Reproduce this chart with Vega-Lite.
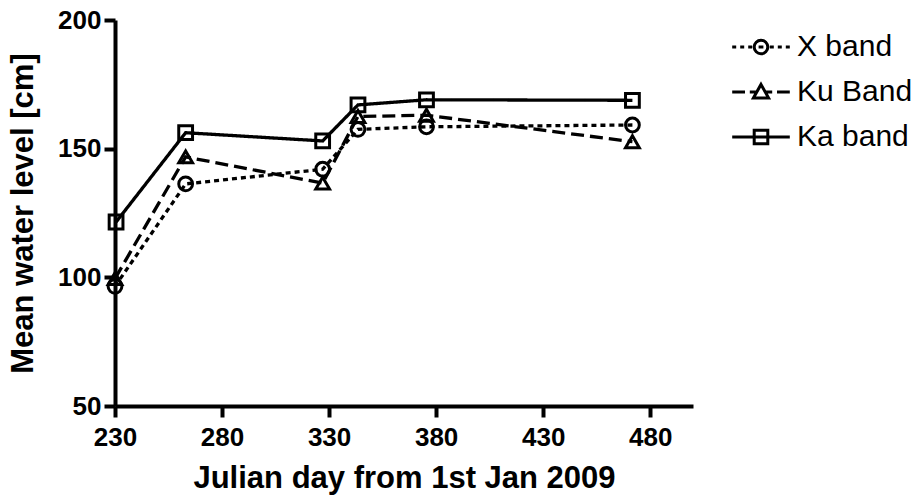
{
  "$schema": "https://vega.github.io/schema/vega-lite/v6.json",
  "autosize": "none",
  "width": 578,
  "height": 386,
  "padding": {"left": 115, "top": 20, "right": 226, "bottom": 90},
  "background": "white",
  "config": {
    "view": {"stroke": null},
    "font": "Liberation Sans",
    "axis": {"grid": false, "labelFlush": false, "labelOverlap": false, "domainColor": "black", "domainWidth": 4, "tickColor": "black", "tickWidth": 4, "tickSize": 11, "labelFont": "Liberation Sans", "labelFontSize": 26, "labelFontWeight": "bold", "labelColor": "black", "titleFont": "Liberation Sans", "titleFontSize": 31, "titleFontWeight": "bold", "titleColor": "black"}
  },
  "data": {"values": [
    {"day": 230, "level": 96.5, "series": "X band"},
    {"day": 263, "level": 136.3, "series": "X band"},
    {"day": 327, "level": 142, "series": "X band"},
    {"day": 343.5, "level": 157.5, "series": "X band"},
    {"day": 375.5, "level": 158.5, "series": "X band"},
    {"day": 471.7, "level": 159.2, "series": "X band"},
    {"day": 230, "level": 99.5, "series": "Ku Band"},
    {"day": 263, "level": 146.8, "series": "Ku Band"},
    {"day": 327, "level": 136.6, "series": "Ku Band"},
    {"day": 343.5, "level": 162.5, "series": "Ku Band"},
    {"day": 375.5, "level": 163, "series": "Ku Band"},
    {"day": 471.7, "level": 152.7, "series": "Ku Band"},
    {"day": 230.5, "level": 121.5, "series": "Ka band"},
    {"day": 263, "level": 156.2, "series": "Ka band"},
    {"day": 327, "level": 153, "series": "Ka band"},
    {"day": 343.5, "level": 167, "series": "Ka band"},
    {"day": 375.5, "level": 169, "series": "Ka band"},
    {"day": 471.7, "level": 168.8, "series": "Ka band"}
  ]},
  "encoding": {
    "x": {"field": "day", "type": "quantitative", "scale": {"domain": [230, 500], "nice": false, "zero": false}, "axis": {"values": [230, 280, 330, 380, 430, 480], "labelPadding": 7, "title": "Julian day from 1st Jan 2009", "titlePadding": 13}},
    "y": {"field": "level", "type": "quantitative", "scale": {"domain": [50, 200], "nice": false, "zero": false}, "axis": {"values": [50, 100, 150, 200], "labelPadding": 3, "title": "Mean water level [cm]", "titlePadding": 18}}
  },
  "layer": [
    {
      "mark": {"type": "line", "color": "black", "strokeWidth": 3.3},
      "encoding": {
        "strokeDash": {"field": "series", "type": "nominal", "scale": {"domain": ["X band", "Ku Band", "Ka band"], "range": [[5, 4], [13, 6], [1, 0]]}, "legend": null}
      }
    },
    {
      "mark": {"type": "point", "filled": false, "color": "black", "strokeWidth": 3, "size": 190, "opacity": 1},
      "encoding": {
        "shape": {"field": "series", "type": "nominal", "scale": {"domain": ["X band", "Ku Band", "Ka band"], "range": ["circle", "triangle-up", "square"]}, "legend": null}
      }
    },
    {
      "transform": [{"filter": "false"}],
      "mark": {"type": "point", "filled": false, "color": "black", "strokeWidth": 3, "size": 256, "opacity": 1},
      "encoding": {
        "shape": {"field": "series", "type": "nominal", "scale": {"domain": ["X band", "Ku Band", "Ka band"], "range": [
          "M-3.6,0H-3.1M-2.6,0H-2.1M-1.6,0H-1.1M1.1,0H1.6M2.1,0H2.6M3.1,0H3.6M-0.85,0A0.85,0.85 0 1,0 0.85,0A0.85,0.85 0 1,0 -0.85,0M-0.3,0H0.3",
          "M-3.6,0H-2.0M-1.4,0H-0.5M0.5,0H1.4M2.0,0H3.6M0,-0.95L0.95,0.75L-0.95,0.75Z",
          "M-3.6,0H3.6M-0.85,-0.85H0.85V0.85H-0.85Z"
        ]}, "legend": {"title": null, "orient": "none", "legendX": 631, "legendY": 12, "symbolSize": 256, "symbolStrokeWidth": 3, "symbolStrokeColor": "black", "symbolFillColor": "transparent", "labelFont": "Liberation Sans", "labelFontSize": 30, "labelColor": "black", "labelOffset": 21, "rowPadding": 15, "padding": 0}}
      }
    }
  ],
  "resolve": {"scale": {"shape": "independent"}, "legend": {"shape": "independent"}}
}
